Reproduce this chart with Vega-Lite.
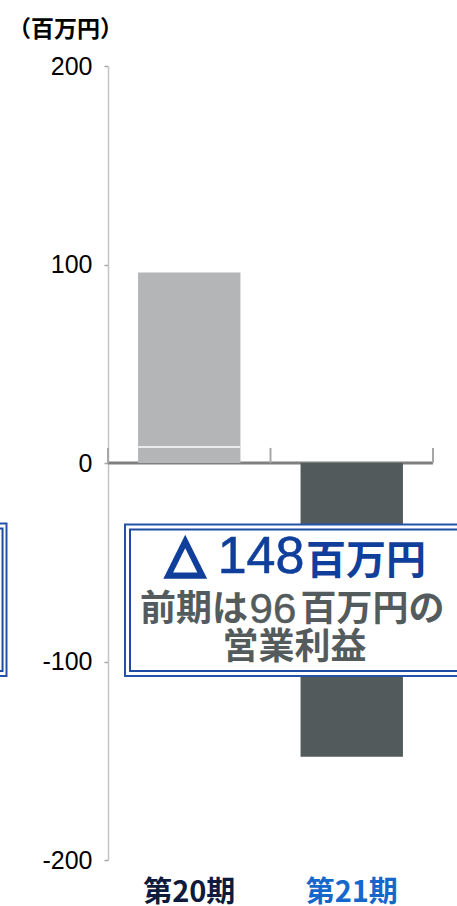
{
  "$schema": "https://vega.github.io/schema/vega-lite/v6.json",
  "width": 325,
  "height": 794,
  "autosize": "none",
  "padding": {"left": 108, "top": 66, "right": 24, "bottom": 46},
  "background": "white",
  "title": {
    "text": "（百万円）",
    "anchor": "start",
    "frame": "group",
    "dx": -100,
    "offset": 12,
    "fontSize": 23,
    "font": "Noto Sans CJK JP",
    "fontWeight": "bold",
    "color": "#000000"
  },
  "config": {
    "view": {"stroke": null},
    "axisY": {
      "grid": false,
      "domainColor": "#c4c4c4", "domainWidth": 1.5,
      "tickColor": "#a6a6a6", "tickSize": 4, "tickWidth": 1.5,
      "labelFont": "Liberation Sans", "labelFontSize": 25,
      "labelColor": "#000000", "labelPadding": 12
    }
  },
  "datasets": {
    "bars": [
      {"period": "第20期", "value": 96},
      {"period": "第21期", "value": -148}
    ],
    "divider": [
      {"period": "第20期", "value": 8}
    ],
    "zeroline": [
      {"x1": 0.5, "x2": 2.5, "y": 0}
    ],
    "bandticks": [
      {"x": 0.5, "y1": 0, "y2": 7.6},
      {"x": 1.5, "y1": 0, "y2": 7.6},
      {"x": 2.5, "y1": 0, "y2": 7.6}
    ],
    "outer": [
      {"x1": 0.6046, "x2": 2.73, "y1": -31.0, "y2": -107.3},
      {"x1": -0.7, "x2": -0.1246, "y1": -30.5, "y2": -107.3}
    ],
    "inner": [
      {"x1": 0.6354, "x2": 2.70, "y1": -33.5, "y2": -104.8},
      {"x1": -0.7, "x2": -0.149, "y1": -33.0, "y2": -104.8}
    ],
    "triangle": [{"t": "△", "x": 0.975, "y": -46.8}],
    "bigdigits": [{"t": "148", "x": 1.442, "y": -47.4}],
    "bluecjk": [{"t": "百万円", "x": 2.088, "y": -49.7}],
    "graycjk": [
      {"t": "前期は", "x": 1.029, "y": -74.1},
      {"t": "百万円の", "x": 2.128, "y": -74.1},
      {"t": "営業利益", "x": 1.648, "y": -93.2}
    ],
    "graydigits": [{"t": "96", "x": 1.515, "y": -74.1}]
  },
  "layer": [
    {
      "data": {"name": "zeroline"},
      "mark": {"type": "rule", "color": "#7f7f7f", "strokeWidth": 3},
      "encoding": {
        "x": {"field": "x1", "type": "quantitative", "scale": {"domain": [0.5, 2.5], "nice": false, "zero": false}, "axis": null},
        "x2": {"field": "x2"},
        "y": {"field": "y", "type": "quantitative", "scale": {"domain": [-200, 200], "nice": false}, "axis": {"title": null}}
      }
    },
    {
      "data": {"name": "bandticks"},
      "mark": {"type": "rule", "color": "#a6a6a6", "strokeWidth": 2},
      "encoding": {
        "x": {"field": "x", "type": "quantitative", "scale": {"domain": [0.5, 2.5], "nice": false, "zero": false}, "axis": null},
        "y": {"field": "y1", "type": "quantitative", "axis": {"title": null}},
        "y2": {"field": "y2"}
      }
    },
    {
      "data": {"name": "bars"},
      "mark": {"type": "bar"},
      "encoding": {
        "x": {
          "field": "period", "type": "nominal",
          "scale": {"domain": ["第20期", "第21期"], "paddingInner": 0.37, "paddingOuter": 0.185},
          "axis": {
            "orient": "bottom", "title": null, "domain": false, "ticks": false,
            "labelAngle": 0, "labelPadding": 18,
            "labelFont": "Noto Sans CJK JP", "labelFontWeight": "bold", "labelFontSize": 29,
            "labelColor": {"expr": "datum.value == '第21期' ? '#1567cc' : '#0f1b3d'"}
          }
        },
        "y": {
          "field": "value", "type": "quantitative",
          "axis": {"title": null, "values": [-200, -100, 0, 100, 200], "labelExpr": "replace(datum.label, '−', '-')"}
        },
        "color": {
          "field": "period", "type": "nominal",
          "scale": {"domain": ["第20期", "第21期"], "range": ["#b4b5b7", "#535a5b"]},
          "legend": null
        }
      }
    },
    {
      "data": {"name": "divider"},
      "mark": {"type": "tick", "color": "#ffffff", "thickness": 1.5, "size": 102, "opacity": 1},
      "encoding": {
        "x": {
          "field": "period", "type": "nominal",
          "scale": {"domain": ["第20期", "第21期"], "paddingInner": 0.37, "paddingOuter": 0.185},
          "axis": null
        },
        "y": {"field": "value", "type": "quantitative", "axis": {"title": null}}
      }
    },
    {
      "layer": [
        {
          "data": {"name": "outer"},
          "mark": {"type": "rect", "fill": "#ffffff", "stroke": "#2352a8", "strokeWidth": 2},
          "encoding": {
            "x": {"field": "x1", "type": "quantitative", "scale": {"domain": [0.5, 2.5], "nice": false, "zero": false}, "axis": null},
            "x2": {"field": "x2"},
            "y": {"field": "y1", "type": "quantitative", "axis": {"title": null}},
            "y2": {"field": "y2"}
          }
        },
        {
          "data": {"name": "inner"},
          "mark": {"type": "rect", "fill": null, "fillOpacity": 0, "stroke": "#1d4aa3", "strokeWidth": 2},
          "encoding": {
            "x": {"field": "x1", "type": "quantitative"},
            "x2": {"field": "x2"},
            "y": {"field": "y1", "type": "quantitative"},
            "y2": {"field": "y2"}
          }
        },
        {
          "data": {"name": "triangle"},
          "mark": {"type": "text", "font": "DejaVu Sans", "fontSize": 50, "fontWeight": "bold", "color": "#0f3f9b", "stroke": "#0f3f9b", "strokeWidth": 3.5, "align": "center", "baseline": "middle"},
          "encoding": {
            "x": {"field": "x", "type": "quantitative"},
            "y": {"field": "y", "type": "quantitative"},
            "text": {"field": "t"}
          }
        },
        {
          "data": {"name": "bigdigits"},
          "mark": {"type": "text", "font": "Liberation Sans", "fontSize": 52, "color": "#0f3f9b", "stroke": "#0f3f9b", "strokeWidth": 0.6, "align": "center", "baseline": "middle"},
          "encoding": {
            "x": {"field": "x", "type": "quantitative"},
            "y": {"field": "y", "type": "quantitative"},
            "text": {"field": "t"}
          }
        },
        {
          "data": {"name": "bluecjk"},
          "mark": {"type": "text", "font": "Noto Sans CJK JP", "fontSize": 40, "fontWeight": "bold", "color": "#0f3f9b", "align": "center", "baseline": "middle"},
          "encoding": {
            "x": {"field": "x", "type": "quantitative"},
            "y": {"field": "y", "type": "quantitative"},
            "text": {"field": "t"}
          }
        },
        {
          "data": {"name": "graycjk"},
          "mark": {"type": "text", "font": "Noto Sans CJK JP", "fontSize": 36, "fontWeight": "bold", "color": "#545b5c", "align": "center", "baseline": "middle"},
          "encoding": {
            "x": {"field": "x", "type": "quantitative"},
            "y": {"field": "y", "type": "quantitative"},
            "text": {"field": "t"}
          }
        },
        {
          "data": {"name": "graydigits"},
          "mark": {"type": "text", "font": "Liberation Sans", "fontSize": 42, "color": "#545b5c", "stroke": "#545b5c", "strokeWidth": 0.5, "align": "center", "baseline": "middle"},
          "encoding": {
            "x": {"field": "x", "type": "quantitative"},
            "y": {"field": "y", "type": "quantitative"},
            "text": {"field": "t"}
          }
        }
      ]
    }
  ],
  "resolve": {"scale": {"x": "independent"}, "axis": {"x": "independent"}}
}
